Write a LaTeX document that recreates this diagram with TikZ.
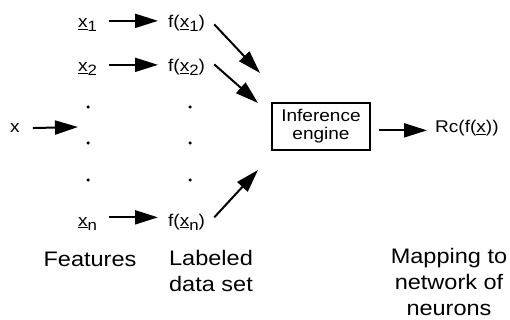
\documentclass[tikz,border=0pt]{standalone}
\usepackage{fontspec}
\setmainfont{Liberation Sans}[FakeStretch=1.12]
\usetikzlibrary{arrows.meta,positioning}

% underlined feature vector and lowered index
\newcommand{\vx}{\underline{x}}
\newcommand{\lowidx}[1]{\raisebox{-4pt}{\fontsize{15}{15}\selectfont #1}}

\tikzset{
  lbl/.style={inner sep=0pt, anchor=base west, font=\fontsize{17}{18}\selectfont},
  caption/.style={align=center, anchor=base, font=\fontsize{21}{26}\selectfont},
  engine/.style={draw, line width=1.5pt, minimum width=98pt, minimum height=47pt,
    align=center, font=\fontsize{17}{18}\selectfont},
  flow/.style={->, line width=2pt},
  dot/.style={circle, fill, inner sep=0pt, minimum size=3.5pt}
}

\begin{document}
\begin{tikzpicture}[x=1pt,y=-1pt, >={Triangle[length=23pt,width=14pt]}]
        \useasboundingbox (0,0) rectangle (510,320);
        % Features column
        \node [lbl] (x1) at (78,28) {\vx\lowidx{1}};
        \node [lbl] (x2) at (78,72) {\vx\lowidx{2}};
        \node [lbl] (xn) at (78,226) {\vx\lowidx{n}};
        \node [lbl] (xin) at (10,133) {x};
        \coordinate (xend) at (78,127);
        % Labeled data column
        \node [lbl] (fx1) at (168,28) {f(\vx\lowidx{1})};
        \node [lbl] (fx2) at (168,72) {f(\vx\lowidx{2})};
        \node [lbl] (fxn) at (168,226) {f(\vx\lowidx{n})};
        % Dots
        \foreach \y in {107,143,180} {
                \node [dot] at (88,\y) {};
                \node [dot] at (190,\y) {};
        }
        % Engine and result
        \node [engine] (engine) at (321,126.5) {Inference\\engine};
        \node [lbl] (rc) at (435,133) {Rc(f(\vx))};
        \coordinate (in1) at (260,73);
        \coordinate (in2) at (258,103);
        \coordinate (inn) at (258,170);
        % Arrows
        \draw [flow, shorten <=13pt] ([yshift=2pt]xin.mid east) -- (xend);
        \draw [flow, shorten <=12pt, shorten >=10pt] ([yshift=4.5pt]x1.mid east) -- ([yshift=4.5pt]fx1.mid west);
        \draw [flow, shorten <=12pt, shorten >=10pt] ([yshift=4.5pt]x2.mid east) -- ([yshift=4.5pt]fx2.mid west);
        \draw [flow, shorten <=12pt, shorten >=10pt] ([yshift=6pt]xn.mid east) -- ([yshift=6pt]fxn.mid west);
        \draw [flow] ([xshift=9pt,yshift=1pt]fx1.mid east) -- (in1);
        \draw [flow] ([xshift=9pt,yshift=5pt]fx2.mid east) -- (in2);
        \draw [flow] ([xshift=9pt,yshift=6pt]fxn.mid east) -- (inn);
        \draw [flow, shorten <=8pt, shorten >=8pt] (engine.east |- rc.mid west) -- (rc.mid west);
        % Captions
        \node [caption] (feat) at (90,266) {Features};
        \node [caption] (data) at (211,291) {Labeled\\data set};
        \node [caption] (map) at (449,315) {Mapping to\\network of\\neurons};
\end{tikzpicture}
\end{document}
